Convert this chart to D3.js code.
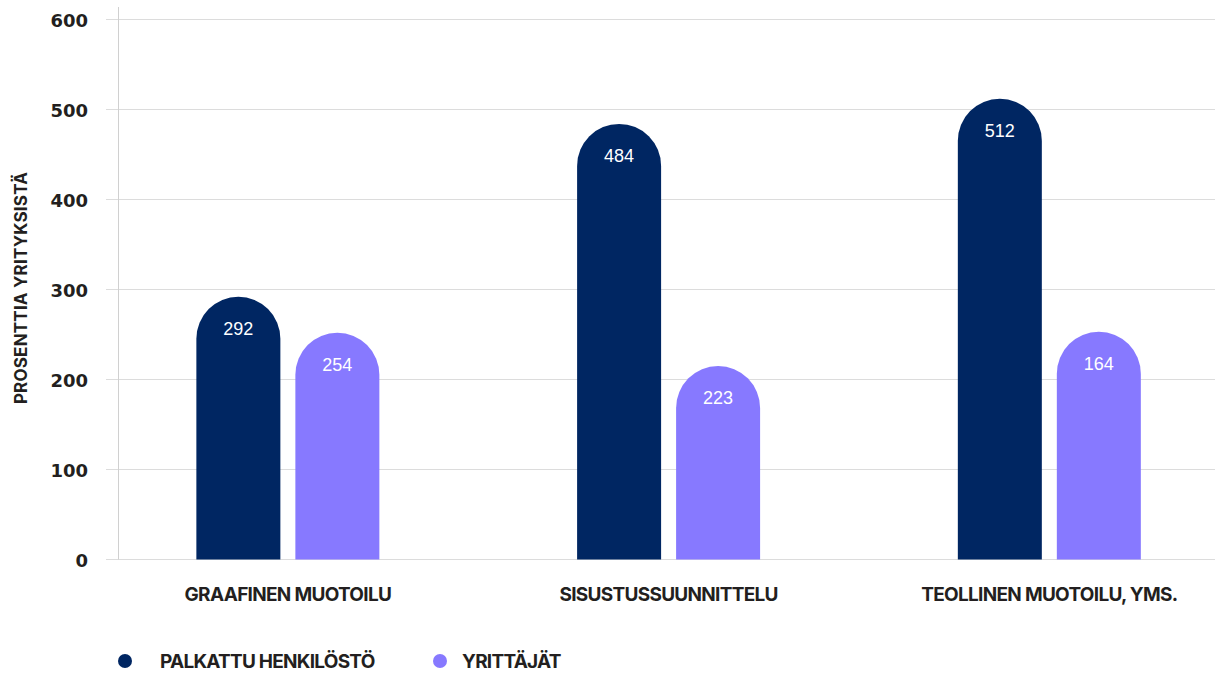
<!DOCTYPE html>
<html>
<head>
<meta charset="utf-8">
<script src="https://cdn.jsdelivr.net/npm/d3@7"></script>
<style>
  body { margin: 0; background: #fff; }
  svg { display: block; }
  .bold { font-family: Inter, "DejaVu Sans", sans-serif; font-weight: 700; fill: #231f20; }
</style>
</head>
<body>
<svg></svg>
<script>
// Data
const categories = ["GRAAFINEN MUOTOILU", "SISUSTUSSUUNNITTELU", "TEOLLINEN MUOTOILU, YMS."];
const seriesNames = ["PALKATTU HENKILÖSTÖ", "YRITTÄJÄT"];
// bar heights as drawn in the picture
const palkattu = [292, 484, 512];
const yrittajat = [252, 215, 253];
// value labels printed on the bars
const palkattuLabels = [292, 484, 512];
const yrittajatLabels = [254, 223, 164];
const yTicks = [0, 100, 200, 300, 400, 500, 600];
const yTitle = "PROSENTTIA YRITYKSISTÄ";

const colors = ["#002662", "#8779ff"];

const width = 1223;
const height = 675;

const svg = d3.select("svg")
    .attr("width", width)
    .attr("height", height);

// Scales
const y = d3.scaleLinear()
    .domain([0, 600])
    .range([559.5, 19.5]);

const x0 = d3.scaleBand()
    .domain(categories)
    .range([97.5, 1239.7])
    .padding(0);

const x1 = d3.scaleBand()
    .domain(seriesNames)
    .range([-91.5, 91.5])
    .paddingInner(0.1515);

// Gridlines
svg.append("g")
    .selectAll("line")
    .data(yTicks)
    .join("line")
    .attr("x1", 106)
    .attr("x2", 1215)
    .attr("y1", d => y(d))
    .attr("y2", d => y(d))
    .attr("stroke", "#dcdcdc")
    .attr("stroke-width", 1);

// vertical axis line
svg.append("line")
    .attr("x1", 118.5).attr("x2", 118.5)
    .attr("y1", 7).attr("y2", y(0))
    .attr("stroke", "#d0d0d0");

// Y axis labels
const yAxis = svg.append("g")
    .attr("transform", "translate(88,0)")
    .call(d3.axisLeft(y).tickValues(yTicks).tickSize(0).tickPadding(0));
yAxis.select(".domain").remove();
yAxis.attr("font-family", null);
yAxis.selectAll("text")
    .attr("class", "bold")
    .style("font-family", "'DejaVu Sans', sans-serif")
    .attr("font-size", 18)
    .attr("dy", "0.4em");

// Y title
svg.append("text")
    .attr("class", "bold")
    .attr("transform", "translate(27,288) rotate(-90)")
    .attr("text-anchor", "middle")
    .attr("font-size", 17)
    .attr("letter-spacing", 0.2)
    .text(yTitle);

// Bars with rounded tops
const rows = categories.map((c, i) => ({
    cat: c,
    values: [
        { key: seriesNames[0], value: palkattu[i], label: palkattuLabels[i], color: colors[0] },
        { key: seriesNames[1], value: yrittajat[i], label: yrittajatLabels[i], color: colors[1] }
    ]
}));

function barPath(x, w, top, bottom) {
    const r = w / 2;
    return `M${x},${bottom} L${x},${top + r} A${r},${r} 0 0 1 ${x + w},${top + r} L${x + w},${bottom} Z`;
}

const groups = svg.append("g")
    .selectAll("g")
    .data(rows)
    .join("g")
    .attr("transform", d => `translate(${x0(d.cat) + x0.bandwidth() / 2},0)`);

groups.selectAll("path")
    .data(d => d.values)
    .join("path")
    .attr("d", d => barPath(x1(d.key), x1.bandwidth(), y(d.value), y(0)))
    .attr("fill", d => d.color);

groups.selectAll("text.val")
    .data(d => d.values)
    .join("text")
    .attr("class", "val")
    .attr("x", d => x1(d.key) + x1.bandwidth() / 2)
    .attr("y", d => y(d.value) + 32)
    .attr("dy", "0.35em")
    .attr("text-anchor", "middle")
    .attr("font-family", "'Liberation Sans', Arial, sans-serif")
    .attr("font-size", 18)
    .attr("fill", "#fff")
    .text(d => d.label);

// Category labels
svg.append("g")
    .selectAll("text")
    .data(categories)
    .join("text")
    .attr("class", "bold")
    .attr("x", d => x0(d) + x0.bandwidth() / 2)
    .attr("y", 594)
    .attr("dy", "0.35em")
    .attr("text-anchor", "middle")
    .attr("font-size", 19)
    .attr("letter-spacing", -0.7)
    .text(d => d);

// Legend
const legendX = [125, 440];
const legendGap = [35, 22];
const legend = svg.append("g")
    .selectAll("g")
    .data(seriesNames)
    .join("g")
    .attr("transform", (d, i) => `translate(${legendX[i]},661)`);

legend.append("circle")
    .attr("r", 7)
    .attr("fill", (d, i) => colors[i]);

legend.append("text")
    .attr("class", "bold")
    .attr("x", (d, i) => legendGap[i])
    .attr("dy", "0.35em")
    .attr("font-size", 19)
    .attr("letter-spacing", -0.75)
    .text(d => d);
</script>
</body>
</html>
